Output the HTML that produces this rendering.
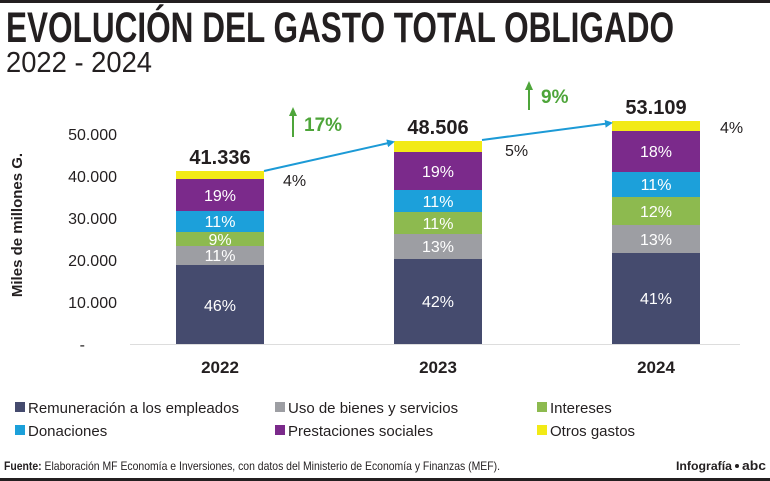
<!DOCTYPE html>
<html><head><meta charset="utf-8"><style>
body{margin:0;background:#fff}
svg{display:block;font-family:"Liberation Sans",sans-serif}
</style></head><body>
<svg width="770" height="481" viewBox="0 0 770 481">
<rect x="0" y="0" width="770" height="3" fill="#231f20"/>
<rect x="0" y="478" width="770" height="3" fill="#231f20"/>
<text x="6" y="42" font-size="43" font-weight="bold" fill="#231f20" textLength="668" lengthAdjust="spacingAndGlyphs">EVOLUCIÓN DEL GASTO TOTAL OBLIGADO</text>
<text x="6" y="72" font-size="29" fill="#231f20" textLength="146" lengthAdjust="spacingAndGlyphs">2022 - 2024</text>
<text transform="translate(22,225) rotate(-90)" font-size="15" font-weight="bold" text-anchor="middle" fill="#231f20">Miles de millones G.</text>
<g font-size="16" fill="#231f20" text-anchor="end">
<text x="117" y="140">50.000</text><text x="117" y="182">40.000</text><text x="117" y="224">30.000</text><text x="117" y="266">20.000</text><text x="117" y="308">10.000</text><text x="85" y="350">-</text>
</g>
<line x1="130" y1="344.5" x2="740" y2="344.5" stroke="#ddd" stroke-width="1"/>
<rect x="176" y="265" width="88" height="79" fill="#454b6e"/>
<rect x="176" y="246" width="88" height="19" fill="#9d9ea3"/>
<rect x="176" y="232" width="88" height="14" fill="#8dba4f"/>
<rect x="176" y="211" width="88" height="21" fill="#1ca0da"/>
<rect x="176" y="179" width="88" height="32" fill="#7b2a8b"/>
<rect x="176" y="171" width="88" height="8" fill="#f2ea16"/>
<rect x="394" y="259" width="88" height="85" fill="#454b6e"/>
<rect x="394" y="234" width="88" height="25" fill="#9d9ea3"/>
<rect x="394" y="212" width="88" height="22" fill="#8dba4f"/>
<rect x="394" y="190" width="88" height="22" fill="#1ca0da"/>
<rect x="394" y="152" width="88" height="38" fill="#7b2a8b"/>
<rect x="394" y="141" width="88" height="11" fill="#f2ea16"/>
<rect x="612" y="253" width="88" height="91" fill="#454b6e"/>
<rect x="612" y="225" width="88" height="28" fill="#9d9ea3"/>
<rect x="612" y="197" width="88" height="28" fill="#8dba4f"/>
<rect x="612" y="172" width="88" height="25" fill="#1ca0da"/>
<rect x="612" y="131" width="88" height="41" fill="#7b2a8b"/>
<rect x="612" y="121" width="88" height="10" fill="#f2ea16"/>
<g font-size="16" fill="#fff" text-anchor="middle">
<text x="220" y="311">46%</text><text x="220" y="261">11%</text><text x="220" y="245">9%</text><text x="220" y="227">11%</text><text x="220" y="201">19%</text>
<text x="438" y="307">42%</text><text x="438" y="252">13%</text><text x="438" y="229">11%</text><text x="438" y="207">11%</text><text x="438" y="177">19%</text>
<text x="656" y="304">41%</text><text x="656" y="245">13%</text><text x="656" y="217">12%</text><text x="656" y="190">11%</text><text x="656" y="157">18%</text>
</g>
<g font-size="16" fill="#231f20">
<text x="283" y="186">4%</text><text x="505" y="156">5%</text><text x="720" y="133">4%</text>
</g>
<g font-size="20" font-weight="bold" fill="#231f20" text-anchor="middle">
<text x="220" y="164">41.336</text><text x="438" y="134">48.506</text><text x="656" y="114">53.109</text>
</g>
<g font-size="17" font-weight="bold" fill="#231f20" text-anchor="middle">
<text x="220" y="373">2022</text><text x="438" y="373">2023</text><text x="656" y="373">2024</text>
</g>
<defs><marker id="a" markerWidth="8" markerHeight="8" refX="6" refY="4" orient="auto" markerUnits="userSpaceOnUse"><path d="M0,0 L8,4 L0,8 z" fill="#1c9ad6"/></marker></defs>
<line x1="264" y1="171" x2="393" y2="142" stroke="#1c9ad6" stroke-width="2" marker-end="url(#a)"/>
<line x1="482" y1="140" x2="611" y2="123" stroke="#1c9ad6" stroke-width="2" marker-end="url(#a)"/>
<line x1="293" y1="137" x2="293" y2="114" stroke="#4ea53a" stroke-width="2"/>
<path d="M289,116 L293,107 L297,116 z" fill="#4ea53a"/>
<line x1="529" y1="110" x2="529" y2="88" stroke="#4ea53a" stroke-width="2"/>
<path d="M525,90 L529,81 L533,90 z" fill="#4ea53a"/>
<g font-size="19" font-weight="bold" fill="#4ea53a"><text x="304" y="131">17%</text><text x="541" y="103">9%</text></g>
<g font-size="15" fill="#231f20">
<rect x="15" y="402" width="10" height="10" fill="#454b6e"/><text x="28" y="413">Remuneración a los empleados</text>
<rect x="275" y="402" width="10" height="10" fill="#9d9ea3"/><text x="288" y="413">Uso de bienes y servicios</text>
<rect x="537" y="402" width="10" height="10" fill="#8dba4f"/><text x="550" y="413">Intereses</text>
<rect x="15" y="425" width="10" height="10" fill="#1ca0da"/><text x="28" y="436">Donaciones</text>
<rect x="275" y="425" width="10" height="10" fill="#7b2a8b"/><text x="288" y="436">Prestaciones sociales</text>
<rect x="537" y="425" width="10" height="10" fill="#f2ea16"/><text x="550" y="436">Otros gastos</text>
</g>
<text x="4" y="470" font-size="12" fill="#231f20" textLength="496" lengthAdjust="spacingAndGlyphs"><tspan font-weight="bold">Fuente:</tspan> Elaboración MF Economía e Inversiones, con datos del Ministerio de Economía y Finanzas (MEF).</text>
<text x="676" y="470" font-size="12" font-weight="bold" fill="#231f20" textLength="56" lengthAdjust="spacingAndGlyphs">Infografía</text>
<circle cx="737" cy="466" r="2" fill="#231f20"/>
<text x="742" y="470" font-size="13" font-weight="bold" fill="#231f20" textLength="24" lengthAdjust="spacingAndGlyphs">abc</text>
</svg>
</body></html>
